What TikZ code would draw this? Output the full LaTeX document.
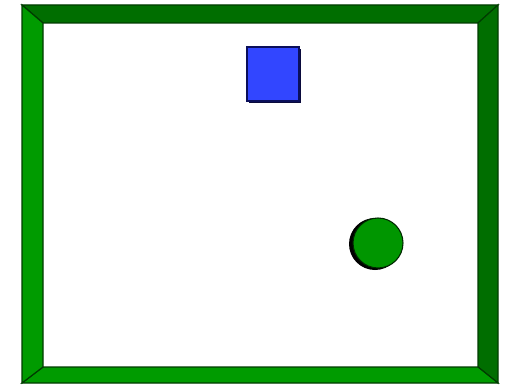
\documentclass[tikz,border=0pt]{standalone}
\definecolor{framedark}{RGB}{0,110,0}
\definecolor{framelight}{RGB}{0,155,0}
\definecolor{frameline}{RGB}{0,60,0}
\definecolor{boxblue}{RGB}{50,70,255}
\definecolor{boxedge}{RGB}{10,15,90}
\definecolor{boxshadow}{RGB}{10,10,60}
\definecolor{ballgreen}{RGB}{0,150,0}
\definecolor{balledge}{RGB}{0,40,0}
\begin{document}
\begin{tikzpicture}[x=0.75pt,y=-0.75pt,
  darkside/.style={fill=framedark,draw=frameline,line width=0.9pt,line join=miter},
  lightside/.style={fill=framelight,draw=frameline,line width=0.9pt,line join=miter},
  bluebox/.style={fill=boxblue,draw=boxedge,line width=0.8pt},
  greenball/.style={fill=ballgreen,draw=balledge,line width=0.8pt}]
\useasboundingbox (0,0) rectangle (506,385);
\fill[white] (0,0) rectangle (506,385);
% frame
\draw[darkside] (22,5) -- (498,5) -- (478,23) -- (43,23) -- cycle;
\draw[darkside] (498,5) -- (498,383) -- (478,367) -- (478,23) -- cycle;
\draw[lightside] (22,383) -- (498,383) -- (478,367) -- (43,367) -- cycle;
\draw[lightside] (22,5) -- (22,383) -- (43,367) -- (43,23) -- cycle;
% blue square with shadow
\fill[boxshadow] (249,49) rectangle (301,103);
\draw[bluebox] (247,47) rectangle (299,101);
% green ball with shadow
\fill[black] (375,244) circle (26);
\draw[greenball] (378,243) circle (25);
\end{tikzpicture}
\end{document}
